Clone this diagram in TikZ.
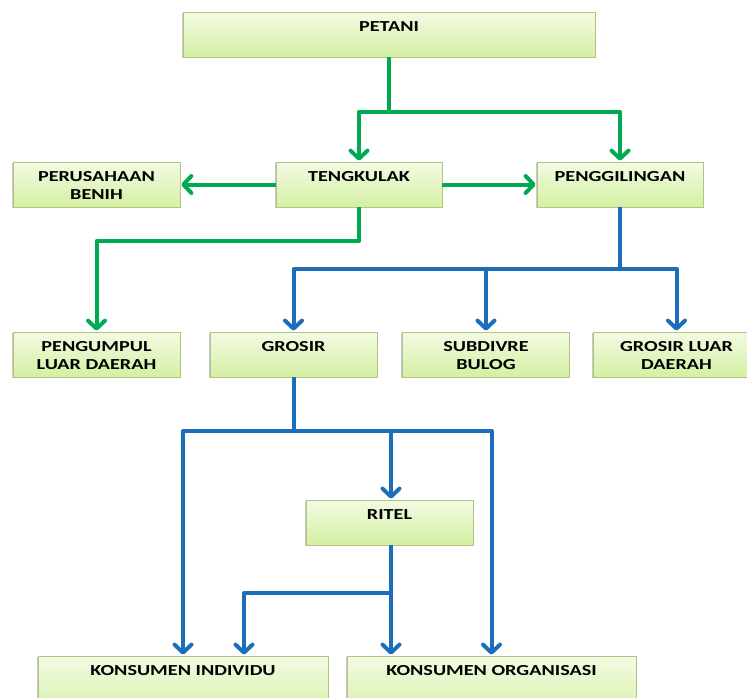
\documentclass[tikz,border=0pt]{standalone}
\usepackage{fontspec}
\setmainfont{Carlito}[FakeStretch=1.32]
\usetikzlibrary{arrows.meta,shadows}
\definecolor{gline}{RGB}{0,170,80}
\definecolor{bline}{RGB}{28,110,186}
\definecolor{boxtop}{RGB}{243,251,228}
\definecolor{boxbot}{RGB}{212,239,162}
\definecolor{boxedge}{RGB}{178,196,128}
\tikzset{
  box/.style={rectangle, draw=boxedge, line width=0.8pt, top color=boxtop, bottom color=boxbot,
    minimum height=45pt, inner sep=0pt,
    drop shadow={shadow xshift=-1.2pt, shadow yshift=-1.4pt, opacity=0.35, fill=black!60}},
  lbl/.style={font=\bfseries\fontsize{15.3}{18}\selectfont, align=center, inner sep=0pt, anchor=north},
  gl/.style={draw=gline, line width=4pt, line join=round},
  ga/.style={gl, -{Straight Barb[length=8pt,width=17pt,round]}, shorten >=1pt},
  bl/.style={draw=bline, line width=4pt, line join=round},
  ba/.style={bl, -{Straight Barb[length=8pt,width=17pt,round]}, shorten >=1pt},
}
\begin{document}
\begin{tikzpicture}[x=1pt,y=-1pt]
\fill[white] (0,0) rectangle (747,697);
\useasboundingbox (0,0) rectangle (747,697);
% boxes
\node[box, minimum width=412pt] (petani) at (389,34.5) {};
\node[box, minimum width=167pt] (perusahaan) at (96.5,184.5) {};
\node[box, minimum width=166pt] (tengkulak) at (359,184.5) {};
\node[box, minimum width=166pt] (penggilingan) at (620,184.5) {};
\node[box, minimum width=167pt] (pengumpul) at (96.5,354.5) {};
\node[box, minimum width=167pt] (grosir) at (293.5,354.5) {};
\node[box, minimum width=167pt] (subdivre) at (486,354.5) {};
\node[box, minimum width=167pt] (grosirld) at (676.5,354.5) {};
\node[box, minimum width=167pt] (ritel) at (389.5,522.5) {};
\node[box, minimum width=290pt, minimum height=62pt] (ki) at (183,687) {};
\node[box, minimum width=289pt, minimum height=62pt] (ko) at (491.5,687) {};
% texts
\node[lbl] (tpetani) at ([yshift=-10pt]petani.north) {PETANI};
\node[lbl] (tperusahaan) at ([yshift=-10pt]perusahaan.north) {PERUSAHAAN\\BENIH};
\node[lbl] (ttengkulak) at ([yshift=-10pt]tengkulak.north) {TENGKULAK};
\node[lbl] (tpenggilingan) at ([yshift=-10pt]penggilingan.north) {PENGGILINGAN};
\node[lbl] (tpengumpul) at ([yshift=-10pt]pengumpul.north) {PENGUMPUL\\LUAR DAERAH};
\node[lbl] (tgrosir) at ([yshift=-10pt]grosir.north) {GROSIR};
\node[lbl] (tsubdivre) at ([yshift=-10pt]subdivre.north) {SUBDIVRE\\BULOG};
\node[lbl] (tgrosirld) at ([yshift=-10pt]grosirld.north) {GROSIR LUAR\\DAERAH};
\node[lbl] (tritel) at ([yshift=-10pt]ritel.north) {RITEL};
\node[lbl] (tki) at ([yshift=-10pt]ki.north) {KONSUMEN INDIVIDU};
\node[lbl] (tko) at ([yshift=-10pt]ko.north) {KONSUMEN ORGANISASI};
% junctions
\coordinate (j1) at (389,112);
\coordinate (j2) at (359,241);
\coordinate (j3) at (620,269);
\coordinate (j4) at (293.5,431);
\coordinate (j5) at (391,593);
\coordinate (j6) at (244,593);
% green connectors
\draw[gl] (petani.south) -- (j1);
\draw[ga] (j1) -| (tengkulak.north);
\draw[ga] (j1) -| (penggilingan.north);
\draw[ga] (tengkulak.west) -- (perusahaan.east);
\draw[ga] (tengkulak.east) -- (penggilingan.west);
\draw[ga] (tengkulak.south) -- (j2) -| (pengumpul.north);
% blue connectors
\draw[bl] (penggilingan.south) -- (j3);
\draw[ba] (j3) -| (grosir.north);
\draw[ba] (j3) -| (grosirld.north);
\draw[ba] (subdivre.north |- j3) -- (subdivre.north);
\draw[bl] (grosir.south) -- (j4);
\draw[ba] (j4) -| (ki.north);
\draw[ba] (j4) -| (ko.north);
\draw[ba] (j5 |- j4) -- (j5 |- ritel.north);
\draw[bl] (j5 |- ritel.south) -- (j5);
\draw[ba] (j5) -- (j5 |- ko.north);
\draw[ba] (j5) -- (j6) -- (j6 |- ki.north);
\end{tikzpicture}
\end{document}
